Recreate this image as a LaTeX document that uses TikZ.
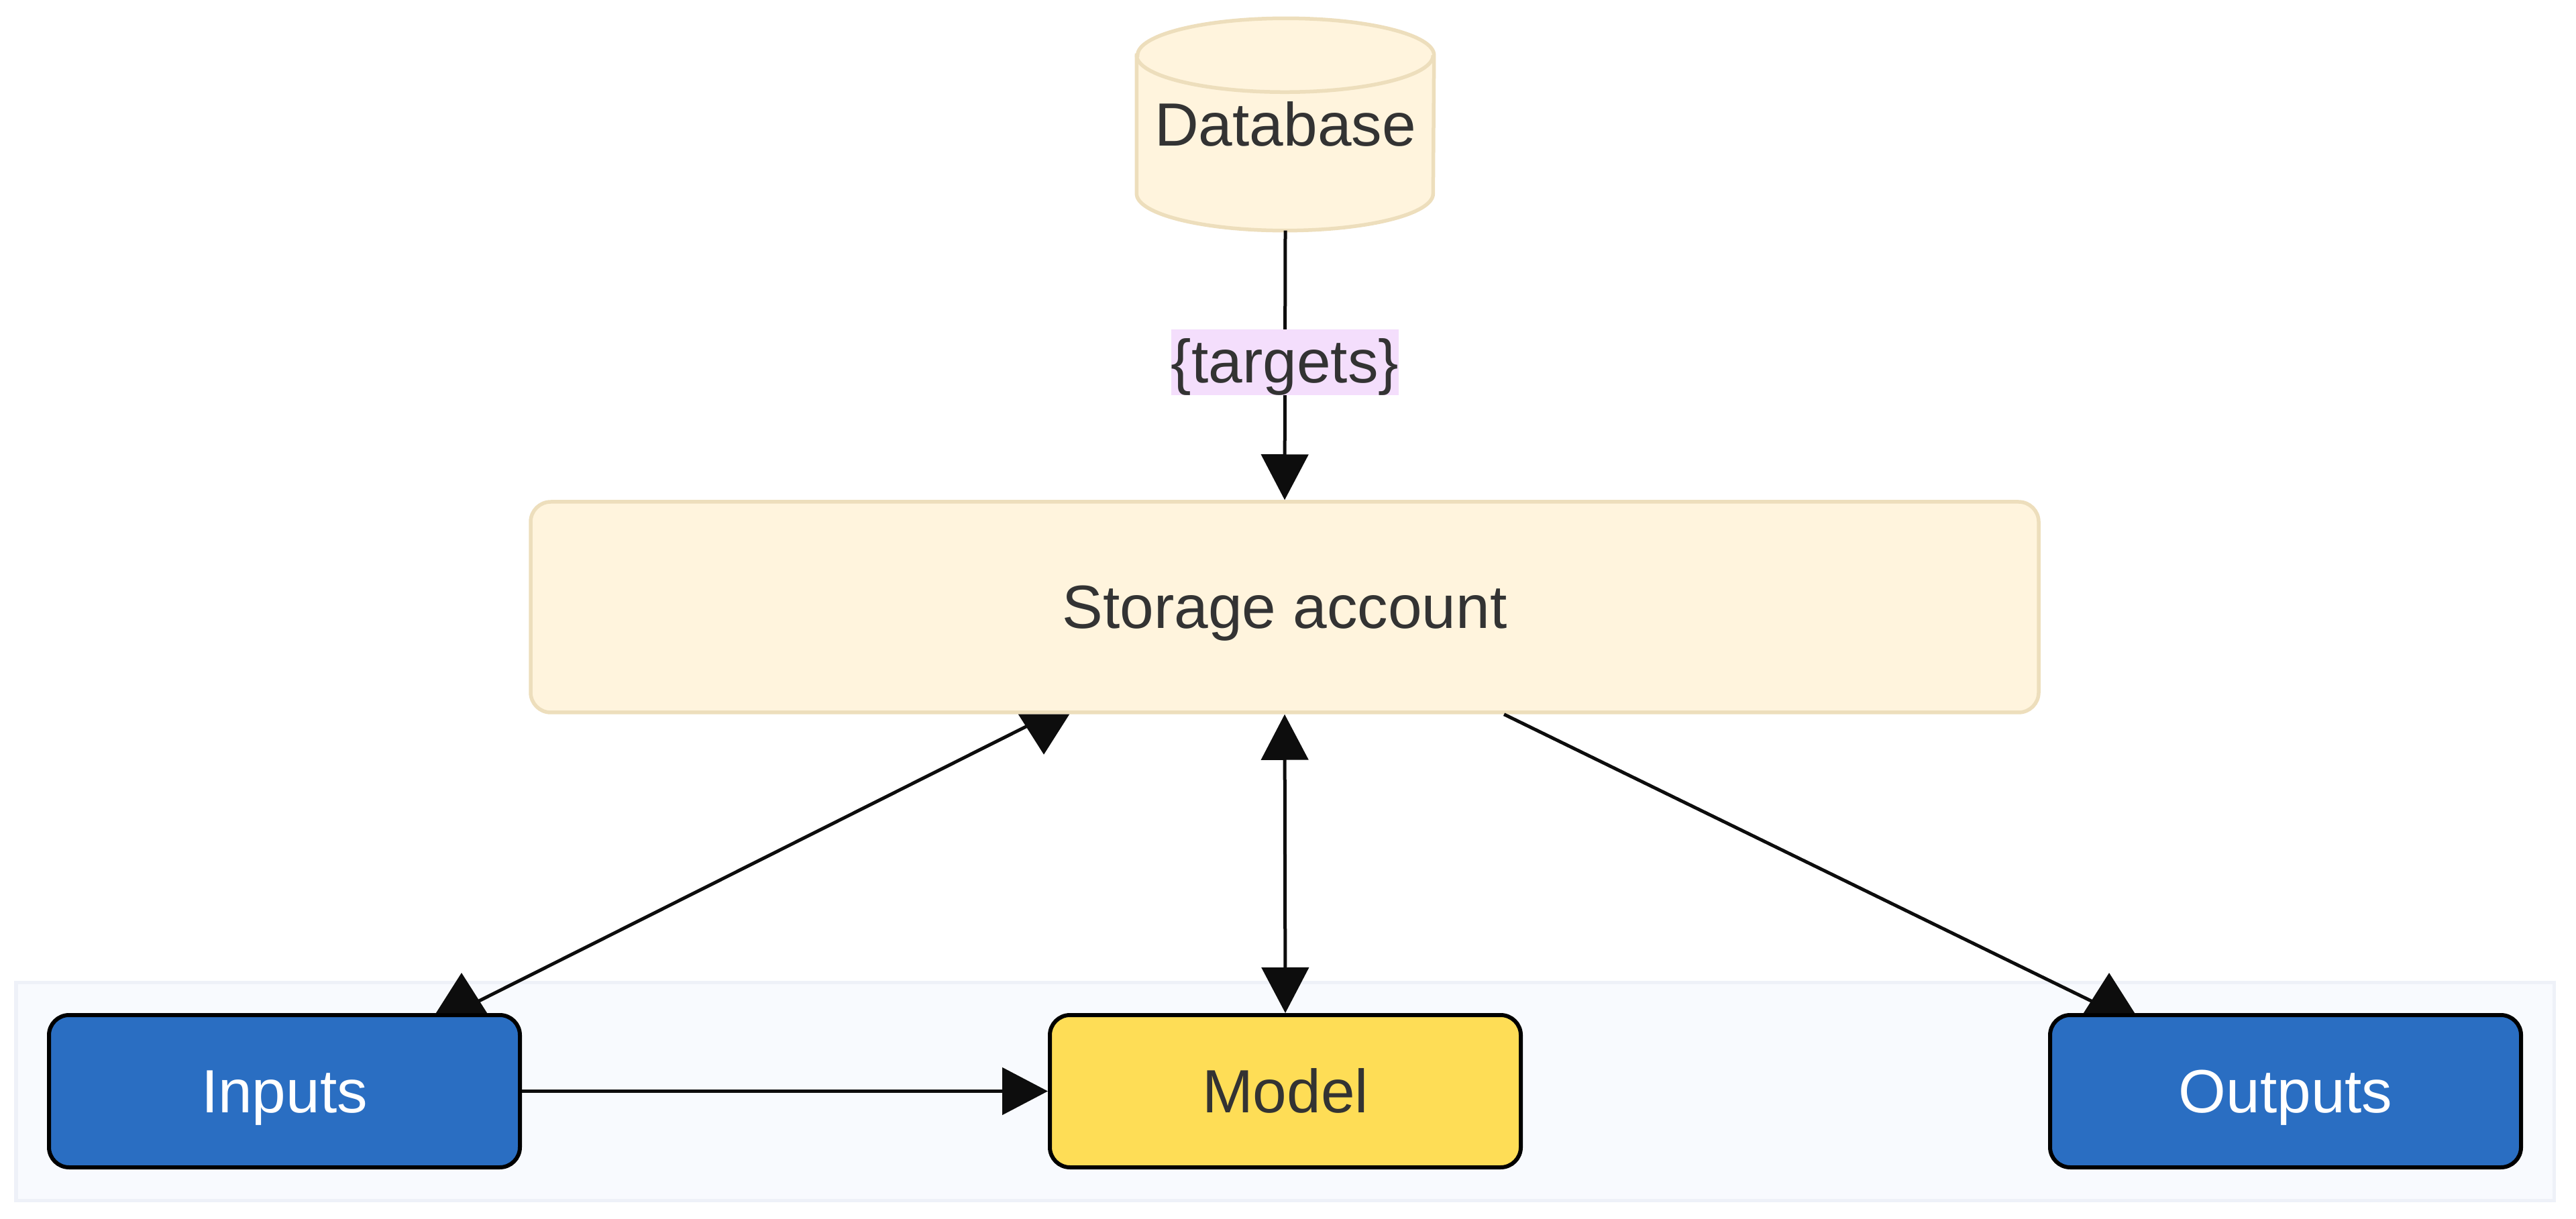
\documentclass[tikz,border=0pt]{standalone}
\usepackage{fontspec}
\setmainfont{Liberation Sans}
\usepackage{tikz}
\usetikzlibrary{shapes,arrows.meta,fit,backgrounds}
\definecolor{paper}{HTML}{FFF4DD}
\definecolor{paperline}{HTML}{EDDEBC}
\definecolor{tagpink}{HTML}{F4DEFC}
\definecolor{ioblue}{HTML}{2A6EC2}
\definecolor{modelyellow}{HTML}{FEDD56}
\definecolor{groupfill}{HTML}{F8FAFE}
\definecolor{groupline}{HTML}{EEF1F8}
\definecolor{inktext}{HTML}{333333}
\definecolor{ink}{HTML}{0D0D0D}
\tikzstyle{txt} = [text height=0.824cm, text depth=0.193cm]
\tikzstyle{store} = [txt, rectangle, rounded corners=0.3cm, fill=paper, draw=paperline, line width=0.055cm, text=inktext]
\tikzstyle{dbtext} = [txt, text=inktext, inner sep=0pt]
\tikzstyle{dbase} = [fill=paper, draw=paperline, line width=0.055cm]
\tikzstyle{io} = [txt, rectangle, rounded corners=0.3cm, fill=ioblue, draw=black, line width=0.06cm, text=white, minimum width=7.02cm, minimum height=2.27cm]
\tikzstyle{mdl} = [io, fill=modelyellow, text=inktext]
\tikzstyle{tag} = [fill=tagpink, text=inktext, inner xsep=0pt, inner ysep=0pt, text height=0.79cm, text depth=0.19cm]
\tikzstyle{grp} = [fill=groupfill, draw=groupline, line width=0.05cm, inner sep=0.46cm]
\tikzstyle{link} = [draw=ink, line width=0.05cm]
\tikzset{>={Triangle[length=0.68cm, width=0.7cm]},
  rtip/.tip={Triangle[reversed, length=0.6cm, width=0.75cm]}}

\begin{document}
\begin{tikzpicture}[font=\fontsize{25.9}{31}\selectfont]
\useasboundingbox (0,0) rectangle (38.4,-18.17);
\node[dbtext, minimum width=4.42cm, minimum height=3.15cm] (db) at (19.16,-1.855) {Database};
\node[store, minimum width=22.48cm, minimum height=3.14cm] (store) at (19.15,-9.05) {Storage account};
\node[io] (inputs) at (4.24,-16.265) {Inputs};
\node[mdl] (model) at (19.16,-16.265) {Model};
\node[io] (outputs) at (34.07,-16.265) {Outputs};
\begin{scope}[on background layer]
\node[grp, fit=(inputs)(outputs)] (group) {};
% database drum
\path[dbase] ([yshift=-0.55cm]db.north west) -- ([yshift=0.55cm]db.south west)
    arc[start angle=180, end angle=360, x radius=2.21cm, y radius=0.55cm]
    -- ([yshift=-0.55cm]db.north east)
    arc[start angle=0, end angle=180, x radius=2.21cm, y radius=0.55cm] -- cycle;
\draw[dbase, fill=none] ([yshift=-0.55cm]db.north west)
    arc[start angle=180, end angle=360, x radius=2.21cm, y radius=0.55cm];
\end{scope}
\draw[link, ->] (db.south) -- node[tag, pos=0.49] (targets) {\{targets\}} (store.north);
\draw[link, <->] (store.south) -- (model.north);
\draw[link, rtip-rtip] ([xshift=-3.59cm]store.south) -- ++(0,-0.05)
    -- ([xshift=2.64cm, yshift=0.05cm]inputs.north) -- ([xshift=2.64cm]inputs.north);
\draw[link, -rtip] ([xshift=3.27cm]store.south)
    -- ([xshift=-2.63cm, yshift=0.05cm]outputs.north) -- ([xshift=-2.63cm]outputs.north);
\draw[link, ->] (inputs) -- (model);
\end{tikzpicture}
\end{document}
